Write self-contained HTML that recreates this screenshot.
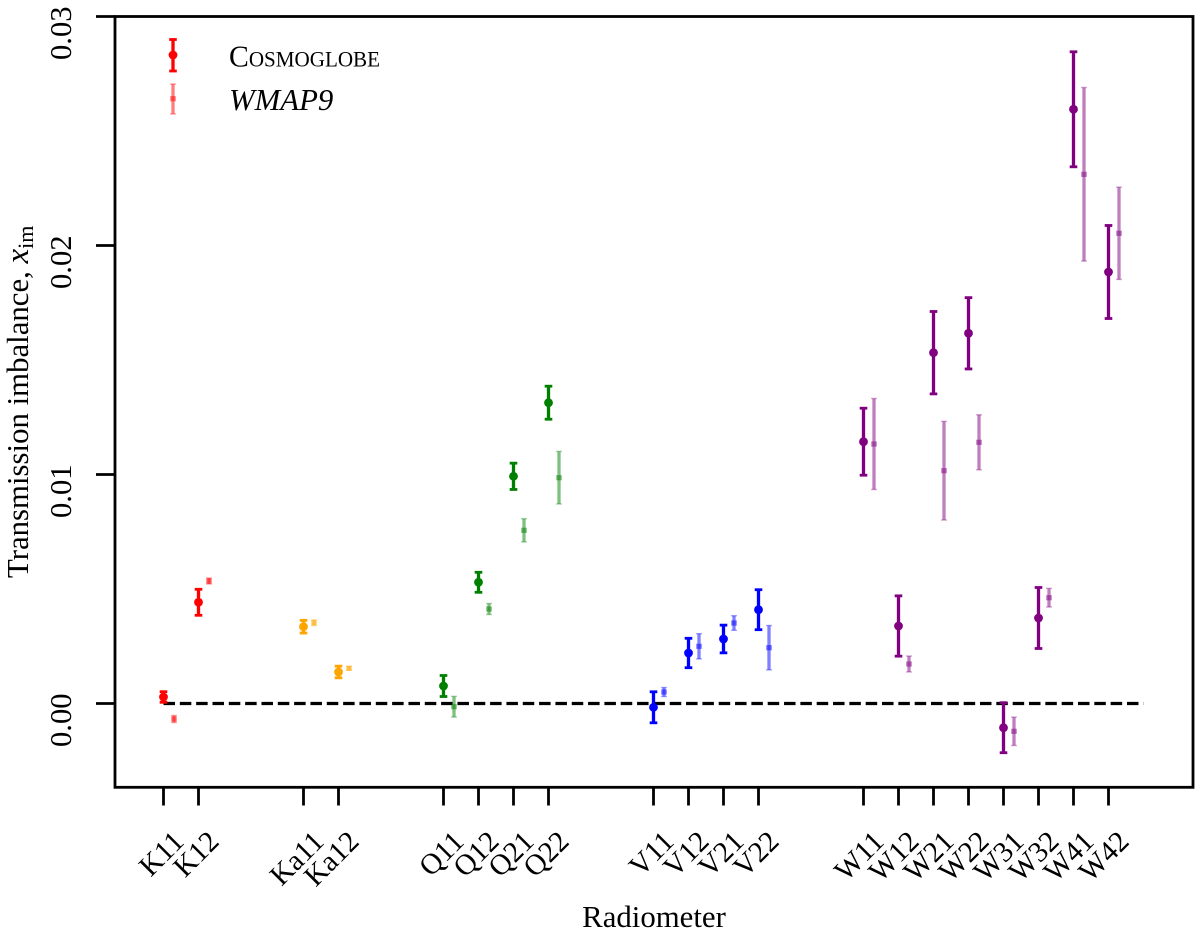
<!DOCTYPE html>
<html>
<head>
<meta charset="utf-8">
<title>Transmission imbalance by radiometer</title>
<style>
html,body{margin:0;padding:0;background:#fff;}
svg{display:block;font-family:"Liberation Serif",serif;}
</style>
</head>
<body>
<svg id="chart" xmlns="http://www.w3.org/2000/svg" width="1200" height="941" viewBox="0 0 1200 941">
  <rect x="0" y="0" width="1200" height="941" fill="#fff"/>
  <g id="refline"></g>
  <g id="marks"></g>
  <rect x="115" y="16.5" width="1078" height="770.8" fill="none" stroke="#000" stroke-width="2.8"/>
  <g id="axes"></g>
  <text transform="translate(28,578) rotate(-90)" font-size="30.8" fill="#000">Transmission imbalance, <tspan font-style="italic" font-size="33">x</tspan><tspan font-size="22" dy="5">im</tspan></text>
  <text x="654" y="927" text-anchor="middle" font-size="30.8" fill="#000">Radiometer</text>
  <g id="legend">
    <text x="229" y="66.5" font-size="31" textLength="151" lengthAdjust="spacingAndGlyphs" style="font-variant:small-caps" fill="#000">Cosmoglobe</text>
    <text x="229" y="110" font-size="30.8" font-style="italic" fill="#000">WMAP9</text>
  </g>
</svg>
<script>
const categories = ["K11","K12","Ka11","Ka12","Q11","Q12","Q21","Q22","V11","V12","V21","V22","W11","W12","W21","W22","W31","W32","W41","W42"];
const cosmoglobeValues = [0.000284,0.00442,0.003354,0.001376,0.000764,0.005293,0.009921,0.013135,-0.000166,0.002205,0.002817,0.004096,0.011432,0.003384,0.015319,0.016166,-0.001057,0.003734,0.025948,0.018843];
const cosmoglobeErrors = [0.000231,0.000568,0.000277,0.000255,0.000459,0.000437,0.000574,0.000721,0.000677,0.000642,0.000605,0.000873,0.001463,0.001317,0.001799,0.001557,0.001092,0.001332,0.002511,0.002031];
const wmapValues = [-0.000677,0.005349,0.003528,0.001537,-0.00014,0.004127,0.007563,0.00986,0.000502,0.002498,0.003515,0.002437,0.011332,0.001725,0.010166,0.011406,-0.001214,0.00462,0.023109,0.020533];
const wmapErrors = [0.000153,0.000131,0.000124,0.000087,0.000452,0.00024,0.000509,0.001148,0.000197,0.000552,0.000319,0.000969,0.001987,0.000349,0.002155,0.001201,0.00062,0.000408,0.00379,0.002015];
const yTickValues = [0,0.01,0.02,0.03];
const yTickLabels = ["0.00","0.01","0.02","0.03"];
const bandNames = ["K","Ka","Q","V","W"];
const bandColors = ["#ff0000","#ffa500","#008000","#0000ff","#800080"];

const NS = "http://www.w3.org/2000/svg";
function xScale(slot){ return 163.5 + 35 * slot; }
function yScale(v){ return 703.5 - 22900 * v; }
function bandOf(name){ return name.replace(/[0-9]+$/, ""); }
function colorOf(name){ return bandColors[bandNames.indexOf(bandOf(name))]; }

const slots = [];
categories.forEach(function(name, i){
  if (i === 0) { slots.push(0); return; }
  const step = bandOf(name) === bandOf(categories[i-1]) ? 1 : 3;
  slots.push(slots[i-1] + step);
});

function make(tag, parent, attrs){
  const el = document.createElementNS(NS, tag);
  Object.keys(attrs).forEach(function(k){ el.setAttribute(k, attrs[k]); });
  parent.appendChild(el);
  return el;
}

function drawCosmoglobe(parent, cx, top, mid, bottom, color, name){
  const g = make("g", parent, {});
  
  
  make("line", g, {x1:cx, x2:cx, y1:top, y2:bottom, stroke:color, "stroke-width":3.3});
  make("line", g, {x1:cx-3.8, x2:cx+3.8, y1:top, y2:top, stroke:color, "stroke-width":2.8});
  make("line", g, {x1:cx-3.8, x2:cx+3.8, y1:bottom, y2:bottom, stroke:color, "stroke-width":2.8});
  make("circle", g, {cx:cx, cy:mid, r:4.4, fill:color});
}

function drawWmap(parent, cx, top, mid, bottom, color, name){
  const g = make("g", parent, {});
  
  
  const o = 0.5;
  make("line", g, {x1:cx, x2:cx, y1:top, y2:bottom, stroke:color, "stroke-width":3.3, "stroke-opacity":o});
  make("line", g, {x1:cx-3, x2:cx+3, y1:top, y2:top, stroke:color, "stroke-width":1.4, "stroke-opacity":o*0.7});
  make("line", g, {x1:cx-3, x2:cx+3, y1:bottom, y2:bottom, stroke:color, "stroke-width":1.4, "stroke-opacity":o*0.7});
  make("rect", g, {x:cx-2.8, y:mid-2.6, width:5.6, height:5.2, fill:color, "fill-opacity":o});
}

const axes = document.getElementById("axes");
const marks = document.getElementById("marks");
const refline = document.getElementById("refline");
const legend = document.getElementById("legend");

const zeroLine = make("line", refline, {x1:xScale(0), x2:xScale(28), y1:yScale(0), y2:yScale(0), stroke:"#000", "stroke-width":3.2, "stroke-dasharray":"11.5 4.83"});



yTickValues.forEach(function(v, i){
  const y = yScale(v);
  const tick = make("line", axes, {x1:96, x2:115, y1:y, y2:y, stroke:"#000", "stroke-width":2.8});
  
  
  const label = make("text", axes, {transform:"translate(71," + (y + 43.5) + ") rotate(-90)", "font-size":30.6, fill:"#000"});
  
  
  label.textContent = yTickLabels[i];
});

categories.forEach(function(name, i){
  const x = xScale(slots[i]);
  const tick = make("line", axes, {x1:x, x2:x, y1:787, y2:805.5, stroke:"#000", "stroke-width":2.8});
  
  
  const label = make("text", axes, {transform:"translate(" + (x + 22) + ",843) rotate(-45)", "text-anchor":"end", "font-size":29.2, fill:"#000"});
  
  
  label.textContent = name;

  const color = colorOf(name);
  const wx = xScale(slots[i] + 0.3);
  drawWmap(marks, wx, yScale(wmapValues[i] + wmapErrors[i]), yScale(wmapValues[i]), yScale(wmapValues[i] - wmapErrors[i]), color, "wmap9-point-" + name.toLowerCase());
  drawCosmoglobe(marks, x, yScale(cosmoglobeValues[i] + cosmoglobeErrors[i]), yScale(cosmoglobeValues[i]), yScale(cosmoglobeValues[i] - cosmoglobeErrors[i]), color, "cosmoglobe-point-" + name.toLowerCase());
});

drawCosmoglobe(legend, 173, 39.5, 55, 71, "#ff0000", "legend-marker-cosmoglobe");
drawWmap(legend, 173, 84, 98.7, 114, "#ff0000", "legend-marker-wmap9");
</script>
</body>
</html>
